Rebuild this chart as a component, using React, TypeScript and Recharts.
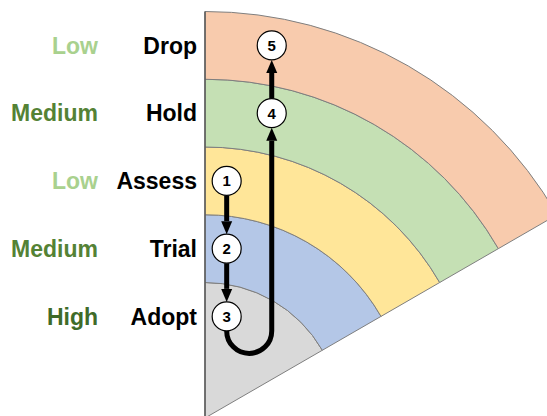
import React from 'react';
import { PieChart, Pie, ScatterChart, Scatter, XAxis, YAxis, ReferenceLine } from 'recharts';

// rings of the radar, innermost first
const rings = ['Adopt', 'Trial', 'Assess', 'Hold', 'Drop'];
const ringLevels = ['High', 'Medium', 'Low', 'Medium', 'Low'];
const ringInner = [0, 2, 3, 4, 5];
const ringOuter = [2, 3, 4, 5, 6];
const ringColors = ['#D9D9D9', '#B4C7E7', '#FFE699', '#C5E0B4', '#F8CBAD'];

// numbered steps and the ring each one sits in
const stepNumbers = [1, 2, 3, 4, 5];
const stepRings = ['Assess', 'Trial', 'Adopt', 'Hold', 'Drop'];
const stepLanes = [0, 0, 0, 1, 1];

const levelColors: Record<string, string> = {
  High: '#3F6B29',
  Medium: '#548235',
  Low: '#A9D18E',
};

const W = 547;
const H = 416;
const OX = 205; // radar centre, px
const OY = 418;
const UNIT = 67.75; // px per ring unit
const LANE_X = [0.32, 0.985];
const R = 14.5; // step circle radius
const LINE_W = 5;
const HEAD_L = 13;
const HEAD_W = 11;
const LEVEL_GAP = 99;
const FONT = 'Arial, "Liberation Sans", sans-serif';

const ringRow = (i: number) => ringOuter[i] - 0.5;

const stepPoints = stepNumbers.map((n, i) => ({
  step: n,
  x: LANE_X[stepLanes[i]],
  y: ringRow(rings.indexOf(stepRings[i])),
}));

const connections = stepPoints.slice(0, -1).map((p, i) => [p, stepPoints[i + 1]]);

const RingTick = ({ x, y, payload }: any) => {
  const i = rings.findIndex((_, k) => Math.abs(ringRow(k) - payload.value) < 1e-6);
  if (i < 0) return null;
  return (
    <g fontFamily={FONT} fontWeight="bold" fontSize={23}>
      <text x={x} y={y} dy="0.355em" textAnchor="end" fill="#000">
        {rings[i]}
      </text>
      <text x={x - LEVEL_GAP} y={y} dy="0.355em" textAnchor="end" fill={levelColors[ringLevels[i]]}>
        {ringLevels[i]}
      </text>
    </g>
  );
};

const head = (x: number, tipY: number, dir: number) => {
  const by = tipY - dir * HEAD_L;
  return `${x},${tipY} ${x - HEAD_W / 2},${by} ${x + HEAD_W / 2},${by}`;
};

const Connector = (props: any) => {
  const [a, b] = props.points;
  let d: string;
  let tipY: number;
  let dir: number;
  if (Math.abs(a.x - b.x) < 1) {
    dir = b.y > a.y ? 1 : -1;
    tipY = b.y - dir * R;
    d = `M${a.x},${a.y + dir * R} L${b.x},${tipY - dir * HEAD_L}`;
  } else {
    // U-turn under the first circle, then up to the second
    const startY = a.y + R;
    const r = (b.x - a.x) / 2;
    dir = -1;
    tipY = b.y + R;
    d = `M${a.x},${startY} A${r},${r} 0 0 0 ${b.x},${startY} L${b.x},${tipY + HEAD_L}`;
  }
  return (
    <g>
      <path d={d} fill="none" stroke="#000" strokeWidth={LINE_W} />
      <polygon points={head(b.x, tipY, dir)} fill="#000" />
    </g>
  );
};

const Empty = () => <g />;

const StepCircle = ({ cx, cy, payload }: any) => (
  <g>
    <circle cx={cx} cy={cy} r={R} fill="#fff" stroke="#000" strokeWidth={1.2} />
    <text
      x={cx}
      y={cy}
      dy="0.36em"
      textAnchor="middle"
      fontFamily={FONT}
      fontWeight="bold"
      fontSize={15}
      fill="#000"
    >
      {payload.step}
    </text>
  </g>
);

const App: React.FC = () => {
  const layer: React.CSSProperties = { position: 'absolute', left: 0, top: 0 };
  return (
    <div style={{ position: 'absolute', left: 0, top: 0, width: W, height: H, background: '#fff', overflow: 'hidden' }}>
      <div style={layer}>
        <PieChart width={W} height={H} margin={{ top: 0, right: 0, bottom: 0, left: 0 }}>
          {rings.map((name, i) => (
            <Pie
              key={name}
              data={[{ name, value: 1 }]}
              dataKey="value"
              cx={OX}
              cy={OY}
              startAngle={90}
              endAngle={30}
              innerRadius={ringInner[i] * UNIT}
              outerRadius={ringOuter[i] * UNIT}
              fill={ringColors[i]}
              stroke="#7F7F7F"
              strokeWidth={1}
              isAnimationActive={false}
            />
          ))}
        </PieChart>
      </div>
      <div style={layer}>
        <ScatterChart width={W} height={H} margin={{ top: 0, right: 0, bottom: 0, left: 0 }}>
          <XAxis type="number" dataKey="x" hide domain={[0, (W - OX) / UNIT]} allowDataOverflow />
          <YAxis
            type="number"
            dataKey="y"
            width={OX}
            domain={[(OY - H) / UNIT, OY / UNIT]}
            allowDataOverflow
            ticks={rings.map((_, i) => ringRow(i))}
            interval={0}
            axisLine={false}
            tickLine={false}
            tickSize={0}
            tickMargin={8}
            tick={<RingTick />}
          />
          <ReferenceLine
            segment={[{ x: 0, y: 0 }, { x: 0, y: ringOuter[ringOuter.length - 1] }]}
            stroke="#595959"
            strokeWidth={1.5}
            ifOverflow="visible"
          />
          {connections.map((pair, i) => (
            <Scatter
              key={`c${i}`}
              data={pair}
              shape={<Empty />}
              line={Connector}
              isAnimationActive={false}
            />
          ))}
          <Scatter data={stepPoints} shape={<StepCircle />} isAnimationActive={false} />
        </ScatterChart>
      </div>
    </div>
  );
};

export default App;
